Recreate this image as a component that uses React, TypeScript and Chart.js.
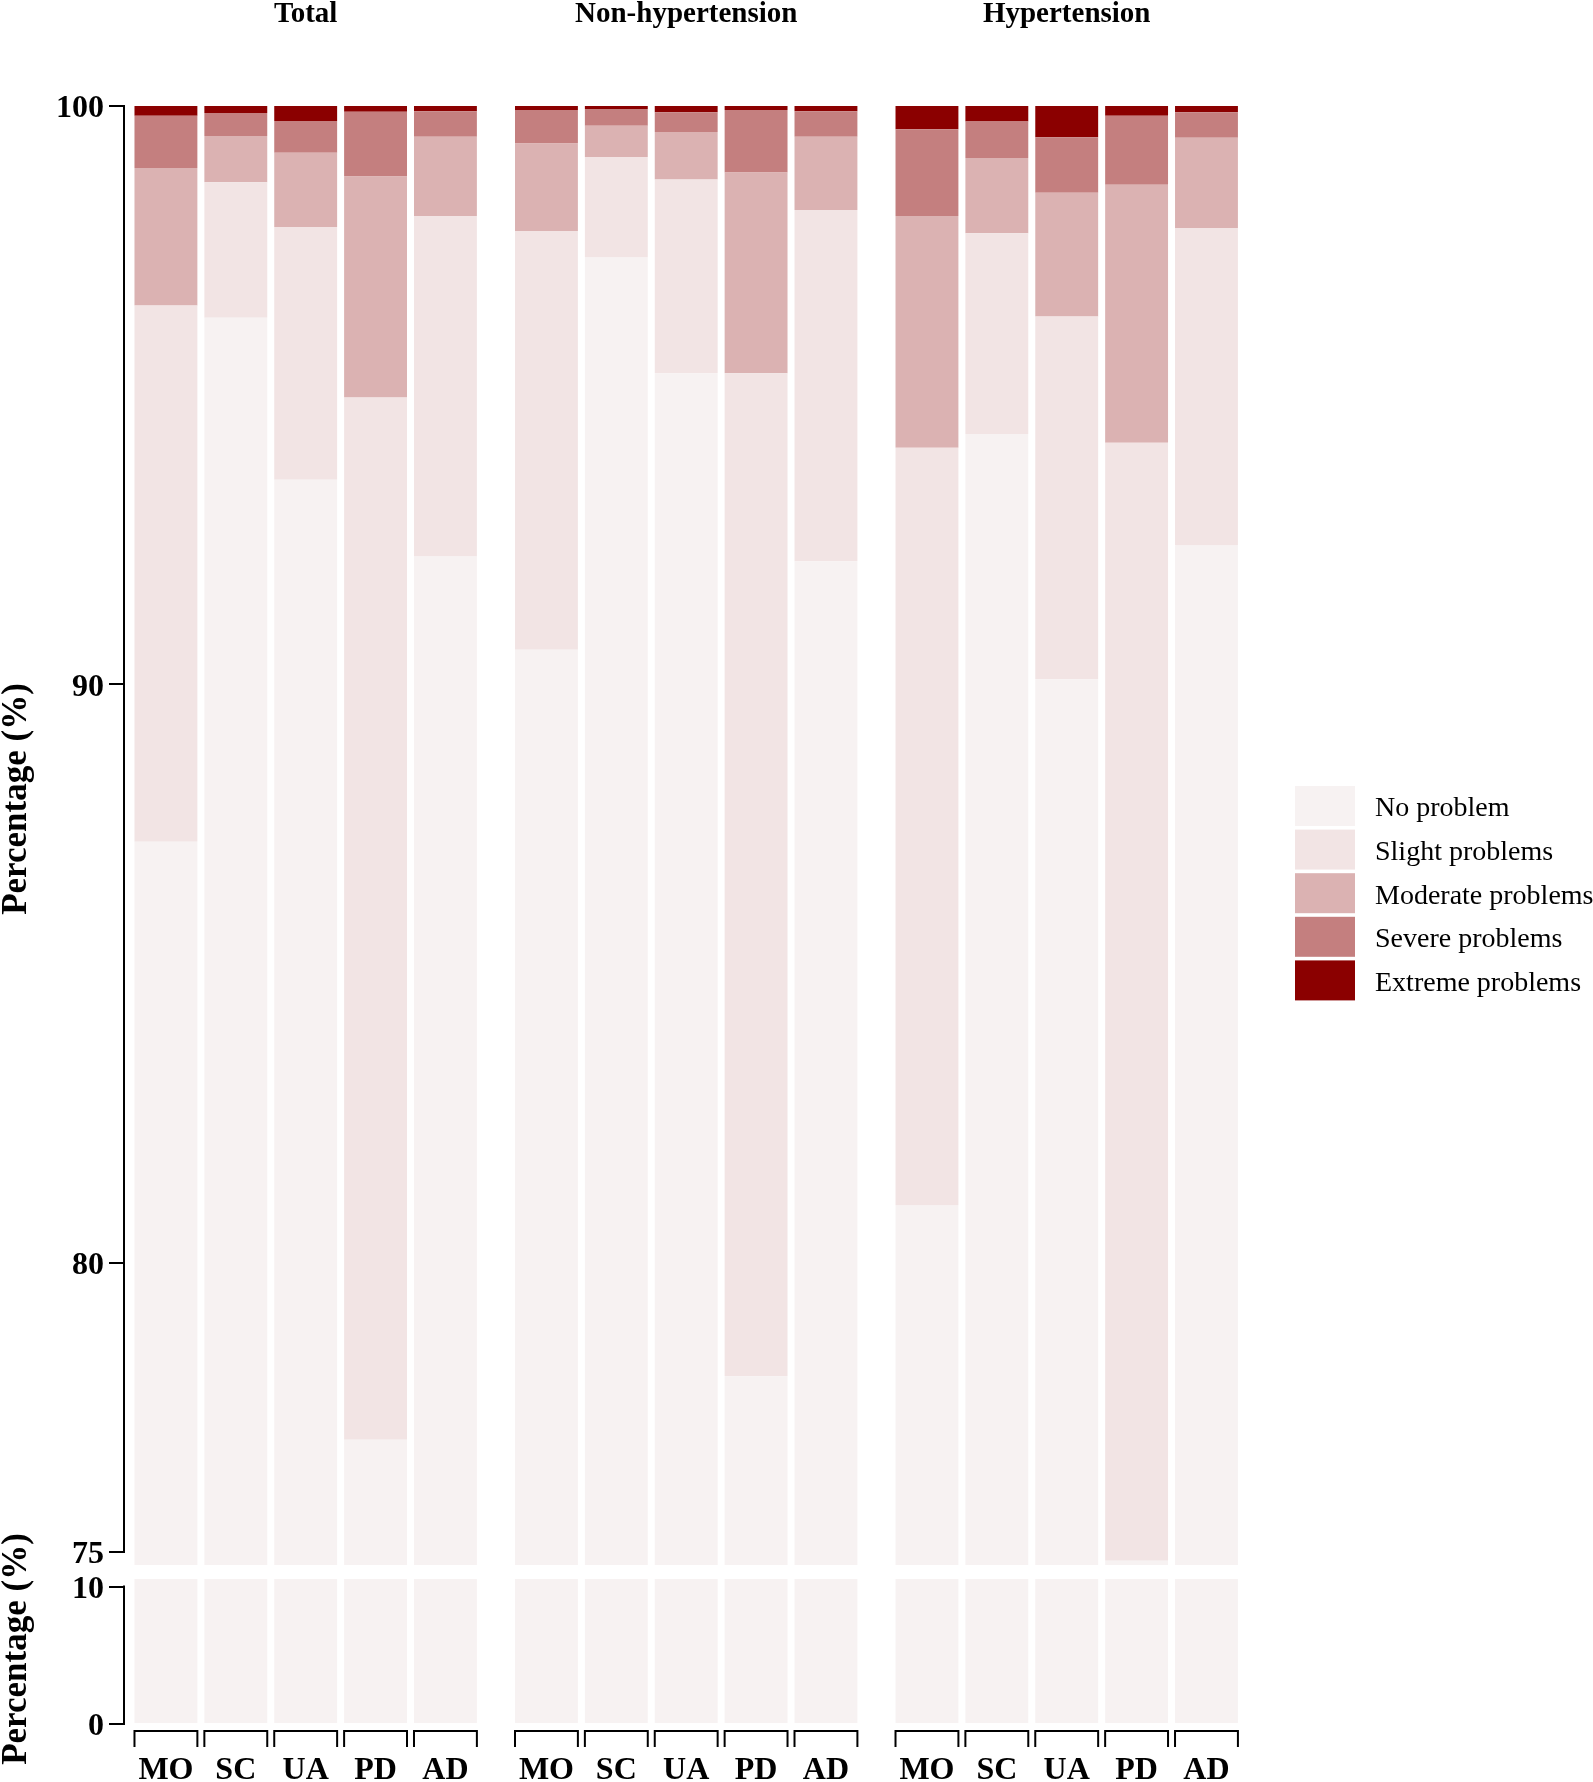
import React, { useEffect, useRef } from "react";
import { Chart, registerables } from "chart.js";

Chart.register(...registerables);

// ---------- data ----------
const groups = ["Total", "Non-hypertension", "Hypertension"];
const categories = ["MO", "SC", "UA", "PD", "AD"];
const levels = ["No problem", "Slight problems", "Moderate problems", "Severe problems", "Extreme problems"];
const levelColors = ["#F7F2F2", "#F2E4E4", "#DBB2B2", "#C47F7F", "#8B0000"];

// order: Total MO..AD, Non-hypertension MO..AD, Hypertension MO..AD (%)
const noProblem = [87.28, 96.34, 93.54, 76.94, 92.21, 90.6, 97.38, 95.38, 78.04, 92.13, 80.99, 94.33, 90.09, 74.85, 92.4];
const slightProblems = [9.27, 2.34, 4.37, 18.02, 5.89, 7.24, 1.74, 3.35, 17.34, 6.07, 13.1, 3.47, 6.27, 19.33, 5.49];
const moderateProblems = [2.38, 0.8, 1.28, 3.82, 1.37, 1.51, 0.54, 0.82, 3.47, 1.27, 4.01, 1.3, 2.14, 4.46, 1.56];
const severeProblems = [0.9, 0.4, 0.55, 1.12, 0.44, 0.58, 0.29, 0.34, 1.08, 0.44, 1.5, 0.63, 0.96, 1.19, 0.44];
const extremeProblems = [0.17, 0.12, 0.26, 0.1, 0.09, 0.07, 0.05, 0.11, 0.07, 0.09, 0.4, 0.27, 0.54, 0.17, 0.11];

const upperTicks = [75, 80, 90, 100];
const lowerTicks = [0, 10];
const yTitle = "Percentage (%)";

// ---------- layout constants ----------
const W = 1593;
const PANEL_STEP = 5.4454; // x-units between first bars of adjacent panels
const EXPAND = 0.6;
const X_MIN = -EXPAND;
const X_MAX = 2 * PANEL_STEP + 4 + EXPAND;
const FONT = '"Liberation Serif", "Times New Roman", serif';
const Y_AXIS_W = 124;
const PAD_RIGHT = W - 1248.4;

const series = [noProblem, slightProblems, moderateProblems, severeProblems, extremeProblems];
const xPos: number[] = [];
groups.forEach((_, p) => categories.forEach((__, i) => xPos.push(p * PANEL_STEP + i)));

function makeDatasets() {
  return levels.map((label, k) => ({
    label,
    data: series[k].map((v, j) => ({ x: xPos[j], y: v })),
    backgroundColor: levelColors[k],
    borderWidth: 0,
    barPercentage: 0.9,
    categoryPercentage: 1,
    clip: 0,
  }));
}

function makeOptions(yMin: number, yMax: number, yTicks: number[], showX: boolean, padTop: number, padBottom: number) {
  return {
    responsive: false,
    animation: false,
    events: [],
    layout: { padding: { left: 0, right: PAD_RIGHT, top: padTop, bottom: padBottom } },
    plugins: { legend: { display: false }, tooltip: { enabled: false } },
    scales: {
      x: {
        type: "linear",
        min: X_MIN,
        max: X_MAX,
        stacked: true,
        offset: false,
        display: showX,
        grid: { display: false, drawTicks: false, offset: false },
        border: { display: false },
        ticks: {
          autoSkip: false,
          maxRotation: 0,
          minRotation: 0,
          padding: 28,
          color: "#000",
          font: { family: FONT, size: 32, weight: "bold" },
          callback: (_v: any, i: number) => categories[i % categories.length],
        },
        afterBuildTicks: (s: any) => {
          s.ticks = xPos.map((v) => ({ value: v }));
        },
        afterFit: (s: any) => {
          if (showX) s.height = 58;
          s.paddingLeft = 0;
          s.paddingRight = 0;
        },
      },
      y: {
        type: "linear",
        min: yMin,
        max: yMax,
        stacked: true,
        beginAtZero: false,
        grid: { display: true, drawOnChartArea: false, drawTicks: true, tickLength: 15, color: "#000", lineWidth: 2 },
        border: { display: false },
        ticks: { padding: 5, labelOffset: 3, color: "#000", font: { family: FONT, size: 32, weight: "bold" } },
        afterBuildTicks: (s: any) => {
          s.ticks = yTicks.map((v) => ({ value: v }));
        },
        afterFit: (s: any) => {
          s.width = Y_AXIS_W;
          s.paddingTop = 0;
          s.paddingBottom = 0;
        },
      },
    },
  };
}

function drawAxisLine(chart: any, from: number, to: number) {
  const { ctx, chartArea, scales } = chart;
  ctx.save();
  ctx.strokeStyle = "#000";
  ctx.lineWidth = 2;
  ctx.lineCap = "square";
  ctx.beginPath();
  ctx.moveTo(chartArea.left, scales.y.getPixelForValue(from));
  ctx.lineTo(chartArea.left, scales.y.getPixelForValue(to));
  ctx.stroke();
  ctx.restore();
}

function drawYTitle(ctx: CanvasRenderingContext2D, x: number, y: number) {
  ctx.save();
  ctx.translate(x, y);
  ctx.rotate(-Math.PI / 2);
  ctx.fillStyle = "#000";
  ctx.font = `bold 35px ${FONT}`;
  ctx.textAlign = "center";
  ctx.textBaseline = "alphabetic";
  ctx.fillText(yTitle, 0, 0);
  ctx.restore();
}

const upperDecor = {
  id: "upperDecor",
  afterDraw(chart: any) {
    const { ctx, scales, data } = chart;
    drawAxisLine(chart, upperTicks[0], upperTicks[upperTicks.length - 1]);
    // strip titles
    ctx.save();
    ctx.fillStyle = "#000";
    ctx.font = `bold 29px ${FONT}`;
    ctx.textAlign = "center";
    ctx.textBaseline = "alphabetic";
    groups.forEach((g, p) => {
      const l = scales.x.getPixelForValue(p * PANEL_STEP - EXPAND);
      const r = scales.x.getPixelForValue(p * PANEL_STEP + 4 + EXPAND);
      ctx.fillText(g, (l + r) / 2, 22);
    });
    ctx.restore();
    drawYTitle(ctx, 26, 799);
    // legend
    ctx.save();
    const bx = 1295, by = 786, bw = 60, bh = 40, step = 43.6;
    ctx.font = `28px ${FONT}`;
    ctx.textAlign = "left";
    ctx.textBaseline = "middle";
    data.datasets.forEach((ds: any, k: number) => {
      const top = by + k * step;
      ctx.fillStyle = ds.backgroundColor;
      ctx.fillRect(bx, top, bw, bh);
      ctx.fillStyle = "#000";
      ctx.fillText(ds.label, 1375, top + bh / 2 + 3);
    });
    ctx.restore();
  },
};

const lowerDecor = {
  id: "lowerDecor",
  afterDraw(chart: any) {
    const { ctx, chartArea } = chart;
    drawAxisLine(chart, lowerTicks[0], lowerTicks[lowerTicks.length - 1]);
    // brackets under each bar
    const meta = chart.getDatasetMeta(0);
    ctx.save();
    ctx.strokeStyle = "#000";
    ctx.lineWidth = 2;
    ctx.lineJoin = "miter";
    const y1 = chartArea.bottom + 7;
    const y2 = chartArea.bottom + 23;
    meta.data.forEach((bar: any) => {
      const l = bar.x - bar.width / 2;
      const r = bar.x + bar.width / 2;
      ctx.beginPath();
      ctx.moveTo(l, y2);
      ctx.lineTo(l, y1);
      ctx.lineTo(r, y1);
      ctx.lineTo(r, y2);
      ctx.stroke();
    });
    ctx.restore();
    drawYTitle(ctx, 26, 1649 - 1520);
  },
};

const UPPER_TOP = 0, UPPER_H = 1590;
const LOWER_TOP = 1520, LOWER_H = 262;

export default function App() {
  const upperRef = useRef<HTMLCanvasElement>(null);
  const lowerRef = useRef<HTMLCanvasElement>(null);

  useEffect(() => {
    const upper = new Chart(upperRef.current as HTMLCanvasElement, {
      type: "bar",
      data: { datasets: makeDatasets() as any },
      options: makeOptions(74.775, 100, upperTicks, false, 106, UPPER_H - 1565) as any,
      plugins: [upperDecor],
    });
    const lower = new Chart(lowerRef.current as HTMLCanvasElement, {
      type: "bar",
      data: { datasets: makeDatasets() as any },
      options: makeOptions(0, 10.55, lowerTicks, true, 1579 - LOWER_TOP, 0) as any,
      plugins: [lowerDecor],
    });
    return () => {
      upper.destroy();
      lower.destroy();
    };
  }, []);

  return (
    <div style={{ position: "absolute", left: 0, top: 0, width: W, height: 1782, background: "#fff", overflow: "hidden" }}>
      <canvas
        ref={upperRef}
        width={W}
        height={UPPER_H}
        style={{ position: "absolute", left: 0, top: UPPER_TOP, width: W, height: UPPER_H }}
      />
      <canvas
        ref={lowerRef}
        width={W}
        height={LOWER_H}
        style={{ position: "absolute", left: 0, top: LOWER_TOP, width: W, height: LOWER_H }}
      />
    </div>
  );
}
